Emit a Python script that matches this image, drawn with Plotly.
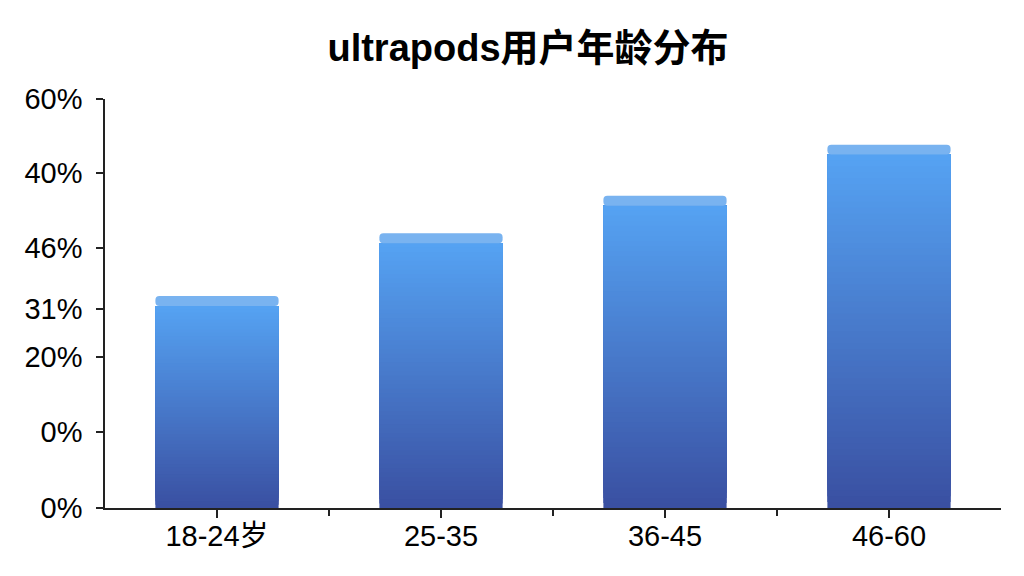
import plotly.graph_objects as go

# ---- data ----
categories = ["18-24岁", "25-35", "36-45", "46-60"]
values = [31.1, 40.3, 45.8, 53.3]
ytick_vals = [60, 49.1, 38.1, 29.2, 22.2, 11.1, 0]
ytick_text = ["60%", "40%", "46%", "31%", "20%", "0%", "0%"]
title_text = "ultrapods用户年龄分布"

# ---- style ----
FONT = "Liberation Sans, Arial, Noto Sans CJK SC, sans-serif"
CAP = 1.45          # height of the lighter top band (data units)
N_SEG = 60          # gradient steps
BOTTOM = (58, 80, 162)
TOP = (85, 162, 242)
CAP_COLOR = "#79b3f0"
BAR_W = 0.55

x = list(range(len(categories)))
boundaries = [i + 0.5 for i in x[:-1]]

def mix(t):
    r = [round(BOTTOM[i] + (TOP[i] - BOTTOM[i]) * t) for i in range(3)]
    return f"rgb({r[0]},{r[1]},{r[2]})"

fig = go.Figure()
for k in range(N_SEG):
    t = k / (N_SEG - 1)
    bases = [(v - CAP) * k / N_SEG for v in values]
    heights = [(v - CAP) - b for v, b in zip(values, bases)]
    fig.add_trace(go.Bar(
        x=x, y=heights, base=bases, width=BAR_W,
        marker=dict(color=mix(t), line=dict(width=0)),
        hoverinfo="skip", showlegend=False,
    ))
fig.add_trace(go.Bar(
    x=x, y=[CAP] * len(values), base=[v - CAP for v in values], width=BAR_W,
    marker=dict(color=CAP_COLOR, line=dict(width=0), cornerradius=4),
    hoverinfo="skip", showlegend=False,
))

fig.update_layout(
    width=1024, height=576,
    barmode="overlay",
    paper_bgcolor="white", plot_bgcolor="white",
    margin=dict(l=97, r=31, t=91, b=76),
    font=dict(family=FONT, color="black"),
    title=dict(text="<b>" + title_text + "</b>", x=520 / 1024, xanchor="center",
               y=1 - 40 / 576, yanchor="middle",
               font=dict(size=38, family=FONT, color="black")),
    xaxis=dict(
        range=[-0.5, len(categories) - 0.5],
        tickmode="array", tickvals=x, ticktext=categories,
        ticks="outside", ticklen=8, tickwidth=1.5, tickcolor="#222",
        showline=True, linecolor="#222", linewidth=1.5,
        showgrid=False, zeroline=False,
        tickfont=dict(size=29, family=FONT, color="black"),
        ticklabelstandoff=-7,
        minor=dict(tickvals=boundaries, ticks="outside",
                   ticklen=6, tickwidth=1.5, tickcolor="#222", showgrid=False),
    ),
    xaxis2=dict(
        overlaying="x", matches="x", side="bottom", anchor="y",
        range=[-0.5, len(categories) - 0.5],
        tickmode="array", tickvals=boundaries, ticks="inside",
        ticklen=7, tickwidth=1.5, tickcolor="#222",
        showticklabels=False, showline=False, showgrid=False, zeroline=False,
    ),
    yaxis=dict(
        range=[0, 60],
        tickmode="array", tickvals=ytick_vals, ticktext=ytick_text,
        ticks="outside", ticklen=7, tickwidth=1.5, tickcolor="#222",
        showline=True, linecolor="#222", linewidth=1.5,
        showgrid=False, zeroline=False,
        tickfont=dict(size=29, family=FONT, color="black"),
        ticklabelstandoff=8,
    ),
)

fig.write_html("out.html")
